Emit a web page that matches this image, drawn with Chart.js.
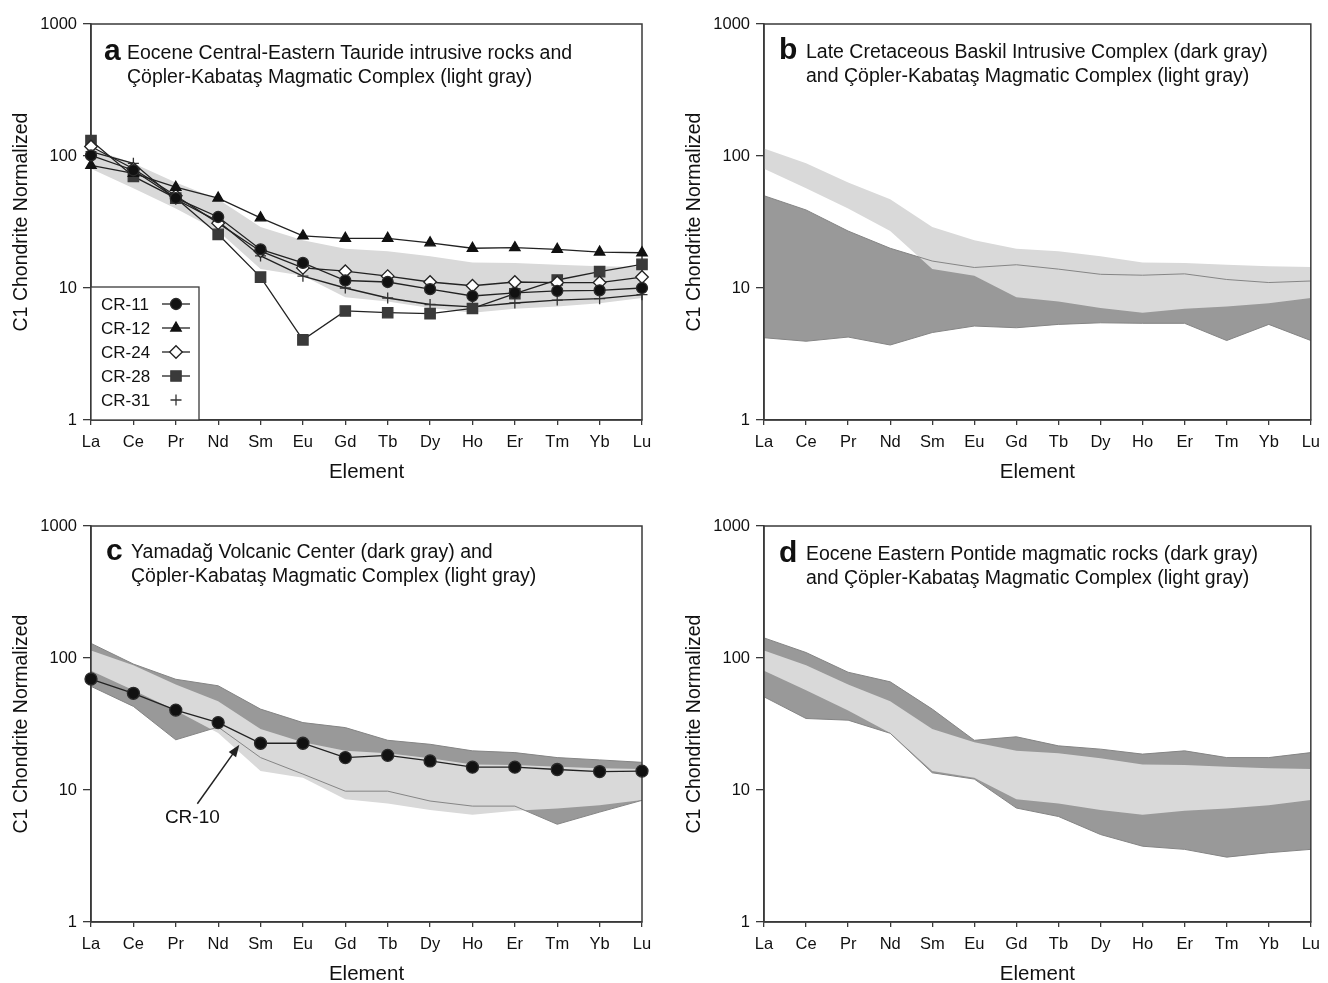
<!DOCTYPE html>
<html>
<head>
<meta charset="utf-8">
<script src="https://cdn.jsdelivr.net/npm/chart.js@4.4.1/dist/chart.umd.min.js"></script>
<style>
  html, body { margin: 0; padding: 0; background: #fff; }
  #page { position: relative; width: 1328px; height: 983px; overflow: hidden;
          font-family: "Liberation Sans", Arial, Helvetica, sans-serif; color: #111; }
  canvas { position: absolute; }
  .tag { position: absolute; font-weight: bold; font-size: 30px; line-height: 30px; }
  .title { position: absolute; font-size: 19.5px; line-height: 24px; white-space: nowrap; }
</style>
</head>
<body>
<div id="page">
  <canvas id="panelA" width="664" height="491" style="left:0;top:0"></canvas>
  <canvas id="panelB" width="655" height="491" style="left:673px;top:0"></canvas>
  <canvas id="panelC" width="664" height="491" style="left:0;top:502px"></canvas>
  <canvas id="panelD" width="655" height="491" style="left:673px;top:502px"></canvas>

  <div class="tag" style="left:104px;top:35px">a</div>
  <div class="title" style="left:127px;top:40px">Eocene Central-Eastern Tauride intrusive rocks and<br>Çöpler-Kabataş Magmatic Complex (light gray)</div>
  <div class="tag" style="left:779px;top:34px">b</div>
  <div class="title" style="left:806px;top:39px">Late Cretaceous Baskil Intrusive Complex (dark gray)<br>and Çöpler-Kabataş Magmatic Complex (light gray)</div>
  <div class="tag" style="left:106px;top:535px">c</div>
  <div class="title" style="left:131px;top:539px">Yamadağ Volcanic Center (dark gray) and<br>Çöpler-Kabataş Magmatic Complex (light gray)</div>
  <div class="tag" style="left:779px;top:537px">d</div>
  <div class="title" style="left:806px;top:541px">Eocene Eastern Pontide magmatic rocks (dark gray)<br>and Çöpler-Kabataş Magmatic Complex (light gray)</div>
</div>

<script>
// REE patterns, chondrite normalized
const elements = ["La", "Ce", "Pr", "Nd", "Sm", "Eu", "Gd", "Tb", "Dy", "Ho", "Er", "Tm", "Yb", "Lu"];
const yTicks = [1, 10, 100, 1000];

// Çöpler-Kabataş Magmatic Complex range (light gray, all panels)
const coplerUpper = [114, 88, 63, 47, 29, 23, 19.8, 19, 17.4, 15.6, 15.5, 15, 14.6, 14.4];
const coplerLower = [80, 57, 40, 27, 13.9, 12.4, 8.5, 7.9, 7.05, 6.5, 6.95, 7.25, 7.65, 8.4];

// panel a samples
const cr11 = [101, 78, 48, 34.5, 19.6, 15.5, 11.4, 11.1, 9.8, 8.7, 9.2, 9.5, 9.6, 10];
const cr12 = [85, 74, 58, 48, 34, 24.8, 23.8, 23.8, 22, 20, 20.2, 19.6, 18.7, 18.5];
const cr24 = [118, 80, 50, 31, 19, 14.2, 13.4, 12.3, 11.1, 10.4, 11.1, 11, 11, 12.1];
const cr28 = [131, 70, 48, 25.5, 12.1, 4.05, 6.7, 6.5, 6.4, 7.0, 9.05, 11.5, 13.3, 15.1];
const cr31 = [108, 88, 47, 32, 17.5, 12.3, 10, 8.4, 7.5, 7.2, 7.7, 8.1, 8.3, 8.9];

// panel b: Baskil Intrusive Complex (dark gray)
const baskilUpper = [50, 39, 27, 20, 16, 14.3, 15, 13.9, 12.7, 12.5, 12.8, 11.6, 11, 11.3];
const baskilLower = [4.2, 3.95, 4.25, 3.7, 4.6, 5.15, 5.0, 5.3, 5.45, 5.4, 5.4, 4.0, 5.3, 4.0];

// panel c: Yamadağ Volcanic Center (dark gray) and sample CR-10
const yamadagUpper = [129, 90, 69, 61.6, 41, 32.4, 29.7, 23.8, 22.2, 19.8, 19.2, 17.6, 16.9, 16.2];
const yamadagLower = [61, 43, 24, 30, 17.6, 13.2, 9.8, 9.8, 8.25, 7.55, 7.55, 5.5, 6.8, 8.35];
const cr10 = [69.3, 54, 40.3, 32.4, 22.6, 22.6, 17.6, 18.3, 16.6, 14.9, 14.9, 14.3, 13.8, 13.9];
const noteBetween = ["Nd", "Sm"];
const noteValue = 22;

// panel d: Eocene Eastern Pontide magmatic rocks (dark gray)
const pontideUpper = [142, 110, 78, 66, 41, 23.8, 25.3, 21.6, 20.4, 18.7, 19.8, 17.6, 17.6, 19.2];
const pontideLower = [50.8, 34.8, 33.8, 26.9, 13.5, 12.1, 7.3, 6.3, 4.6, 3.75, 3.55, 3.1, 3.35, 3.55];

const LIGHT = "#d9d9d9";
const DARK = "#999999";
const EDGE = "#858585";
const AXIS = "#3a3a3a";
const INK = "#111111";
const LINE = "#222222";

Chart.defaults.font.family = '"Liberation Sans", Arial, Helvetica, sans-serif';
Chart.defaults.color = INK;

const markers = {
  "CR-11": { pointStyle: "circle", radius: 5.5, bg: "#111", border: "#2a2a2a" },
  "CR-12": { pointStyle: "triangle", radius: 6, bg: "#111", border: "#111" },
  "CR-24": { pointStyle: "rectRot", radius: 6.3, bg: "#fff", border: "#222" },
  "CR-28": { pointStyle: "rect", radius: 7.3, bg: "#3a3a3a", border: "#3a3a3a" },
  "CR-31": { pointStyle: "cross", radius: 5.5, bg: "#333", border: "#333" },
  "CR-10": { pointStyle: "circle", radius: 6, bg: "#111", border: "#2a2a2a" }
};

function band(upper, lower, color, order) {
  return [
    { data: upper, fill: "+1", backgroundColor: color, borderColor: "rgba(0,0,0,0)", borderWidth: 0, pointRadius: 0, order: order },
    { data: lower, fill: false, borderColor: "rgba(0,0,0,0)", borderWidth: 0, pointRadius: 0, order: order }
  ];
}

function edge(values) {
  return { data: values, fill: false, borderColor: EDGE, borderWidth: 1, pointRadius: 0, order: 2 };
}

function sample(label, values) {
  const m = markers[label];
  return {
    label: label, data: values, fill: false, clip: false, order: 1,
    borderColor: LINE, borderWidth: 1.3,
    pointStyle: m.pointStyle, pointRadius: m.radius,
    pointBackgroundColor: m.bg, pointBorderColor: m.border, pointBorderWidth: 1.3
  };
}

// box round the plot, drawn under the sample lines
const framePlugin = {
  id: "frame",
  beforeDatasetsDraw(chart) { chart.$frameDone = false; },
  beforeDatasetDraw(chart, args) {
    if (args.meta.order === 1 && !chart.$frameDone) drawFrame(chart);
  },
  afterDatasetsDraw(chart) {
    if (!chart.$frameDone) drawFrame(chart);
  }
};

function drawFrame(chart) {
  const a = chart.chartArea;
  const ctx = chart.ctx;
  ctx.save();
  ctx.strokeStyle = AXIS;
  ctx.lineWidth = 1.5;
  ctx.strokeRect(a.left, a.top, a.right - a.left, a.bottom - a.top);
  ctx.restore();
  chart.$frameDone = true;
}

// legend box in the lower left corner of panel a
const sampleLegend = {
  id: "sampleLegend",
  afterDraw(chart) {
    const ctx = chart.ctx;
    const a = chart.chartArea;
    const left = a.left, top = a.bottom - 133;
    ctx.save();
    ctx.fillStyle = "#fff";
    ctx.fillRect(left, top, 108, a.bottom - top);
    ctx.strokeStyle = AXIS;
    ctx.lineWidth = 1.3;
    ctx.strokeRect(left, top, 108, a.bottom - top);
    ctx.font = '17px "Liberation Sans", Arial, sans-serif';
    ctx.textBaseline = "middle";
    chart.data.datasets.filter(d => d.label).forEach((d, i) => {
      const y = top + 17 + i * 24;
      ctx.fillStyle = INK;
      ctx.fillText(d.label, left + 10, y + 1);
      const m = markers[d.label];
      if (m.pointStyle !== "cross") {
        ctx.strokeStyle = LINE;
        ctx.lineWidth = 1.3;
        ctx.beginPath();
        ctx.moveTo(left + 71, y);
        ctx.lineTo(left + 99, y);
        ctx.stroke();
      }
      ctx.fillStyle = m.bg;
      ctx.strokeStyle = m.border;
      ctx.lineWidth = 1.3;
      Chart.helpers.drawPoint(ctx, { pointStyle: m.pointStyle, radius: m.radius, borderWidth: 1.3, rotation: 0 }, left + 85, y);
    });
    ctx.restore();
  }
};

// arrow + label for CR-10 in panel c
const cr10Note = {
  id: "cr10Note",
  afterDraw(chart) {
    const xs = chart.scales.x, ys = chart.scales.y;
    const tipX = (xs.getPixelForValue(elements.indexOf(noteBetween[0])) + xs.getPixelForValue(elements.indexOf(noteBetween[1]))) / 2;
    const tipY = ys.getPixelForValue(noteValue);
    const tailX = tipX - 42, tailY = tipY + 59;
    const ang = Math.atan2(tipY - tailY, tipX - tailX);
    const ctx = chart.ctx;
    ctx.save();
    ctx.strokeStyle = LINE;
    ctx.fillStyle = LINE;
    ctx.lineWidth = 1.5;
    ctx.beginPath();
    ctx.moveTo(tailX, tailY);
    ctx.lineTo(tipX - 9 * Math.cos(ang), tipY - 9 * Math.sin(ang));
    ctx.stroke();
    ctx.beginPath();
    ctx.moveTo(tipX, tipY);
    ctx.lineTo(tipX - 12 * Math.cos(ang) + 4.5 * Math.sin(ang), tipY - 12 * Math.sin(ang) - 4.5 * Math.cos(ang));
    ctx.lineTo(tipX - 12 * Math.cos(ang) - 4.5 * Math.sin(ang), tipY - 12 * Math.sin(ang) + 4.5 * Math.cos(ang));
    ctx.closePath();
    ctx.fill();
    ctx.font = '19px "Liberation Sans", Arial, sans-serif';
    ctx.fillStyle = INK;
    ctx.textAlign = "center";
    ctx.textBaseline = "middle";
    ctx.fillText("CR-10", tipX - 47, tipY + 73);
    ctx.restore();
  }
};

function panelOptions(rightPad) {
  return {
    responsive: false,
    animation: false,
    events: [],
    layout: { padding: { top: 24, right: rightPad, bottom: 0, left: 0 } },
    plugins: { legend: { display: false }, tooltip: { enabled: false } },
    scales: {
      x: {
        type: "category",
        offset: false,
        grid: { offset: false, drawOnChartArea: false, tickLength: 5, color: AXIS, lineWidth: 1.3 },
        border: { color: AXIS, width: 1.5 },
        ticks: { autoSkip: false, maxRotation: 0, padding: 8, font: { size: 16.5 }, color: INK },
        title: { display: true, text: "Element", font: { size: 20.5 }, color: INK, padding: { top: 0, bottom: 6 } },
        afterFit: s => { s.height = 71; }
      },
      y: {
        type: "logarithmic",
        min: 1,
        max: 1000,
        afterBuildTicks: s => { s.ticks = yTicks.map(v => ({ value: v })); },
        grid: { drawOnChartArea: false, tickLength: 8, color: AXIS, lineWidth: 1.3 },
        border: { color: AXIS, width: 1.5 },
        ticks: { padding: 6, font: { size: 16.5 }, color: INK, callback: v => String(v) },
        title: { display: true, text: "C1 Chondrite Normalized", font: { size: 19.5 }, color: INK, padding: { top: 10, bottom: 0 } },
        afterFit: s => { s.width = 91; }
      }
    }
  };
}

new Chart(document.getElementById("panelA"), {
  type: "line",
  data: {
    labels: elements,
    datasets: [
      sample("CR-11", cr11),
      sample("CR-12", cr12),
      sample("CR-24", cr24),
      sample("CR-28", cr28),
      sample("CR-31", cr31),
      ...band(coplerUpper, coplerLower, LIGHT, 5)
    ]
  },
  options: panelOptions(22),
  plugins: [framePlugin, sampleLegend]
});

new Chart(document.getElementById("panelB"), {
  type: "line",
  data: {
    labels: elements,
    datasets: [
      ...band(baskilUpper, baskilLower, DARK, 10),
      ...band(coplerUpper, coplerLower, LIGHT, 5),
      edge(baskilUpper),
      edge(baskilLower)
    ]
  },
  options: panelOptions(12),
  plugins: [framePlugin]
});

new Chart(document.getElementById("panelC"), {
  type: "line",
  data: {
    labels: elements,
    datasets: [
      ...band(yamadagUpper, yamadagLower, DARK, 10),
      ...band(coplerUpper, coplerLower, LIGHT, 5),
      edge(yamadagUpper),
      edge(yamadagLower),
      sample("CR-10", cr10)
    ]
  },
  options: panelOptions(22),
  plugins: [framePlugin, cr10Note]
});

new Chart(document.getElementById("panelD"), {
  type: "line",
  data: {
    labels: elements,
    datasets: [
      ...band(pontideUpper, pontideLower, DARK, 10),
      ...band(coplerUpper, coplerLower, LIGHT, 5),
      edge(pontideUpper),
      edge(pontideLower)
    ]
  },
  options: panelOptions(12),
  plugins: [framePlugin]
});
</script>
</body>
</html>
